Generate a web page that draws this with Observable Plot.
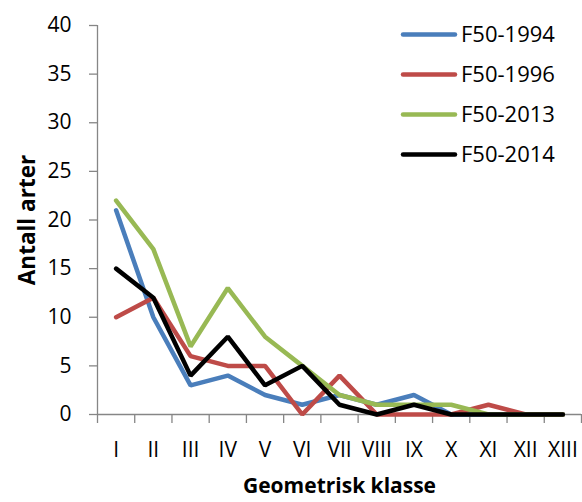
<!DOCTYPE html>
<html>
<head>
<meta charset="utf-8">
<script src="https://cdn.jsdelivr.net/npm/d3@7"></script>
<script src="https://cdn.jsdelivr.net/npm/@observablehq/plot@0.6"></script>
<style>
  html, body { margin: 0; padding: 0; background: #fff; }
  #wrap { position: relative; width: 582px; height: 502px; }
  #legend { position: absolute; left: 0; top: 0; pointer-events: none; }
</style>
</head>
<body>
<div id="wrap"></div>
<script>
const categories = ["I","II","III","IV","V","VI","VII","VIII","IX","X","XI","XII","XIII"];
const seriesNames = ["F50-1994","F50-1996","F50-2013","F50-2014"];
const seriesColors = ["#4a7ebb","#be4b48","#98b954","#000000"];
const s1994 = [21,10,3,4,2,1,2,1,2,0,0,0,0];
const s1996 = [10,12,6,5,5,0,4,0,0,0,1,0,0];
const s2013 = [22,17,7,13,8,5,2,1,1,1,0,0,0];
const s2014 = [15,12,4,8,3,5,1,0,1,0,0,0,0];
const yTicks = [0,5,10,15,20,25,30,35,40];
const xTitle = "Geometrisk klasse";
const yTitle = "Antall arter";

const allSeries = [s1994, s1996, s2013, s2014];
const data = [];
allSeries.forEach((vals, si) => vals.forEach((v, i) => data.push({series: seriesNames[si], idx: i, value: v})));
const idxs = categories.map((c, i) => i);
const bounds = categories.map((c, i) => i - 0.5).concat([categories.length - 0.5]);

const axisGray = "#868686";
const font = "'Open Sans', sans-serif";

const chart = Plot.plot({
  width: 582,
  height: 502,
  marginLeft: 97,
  marginRight: 1,
  marginTop: 25,
  marginBottom: 88,
  style: {fontFamily: font, fontSize: "21px", color: "#000", background: "#fff"},
  x: {type: "linear", domain: [-0.5, categories.length - 0.5], axis: null},
  y: {domain: [0, 40], axis: null},
  color: {domain: seriesNames, range: seriesColors},
  marks: [
    Plot.ruleX([-0.5], {stroke: axisGray, strokeWidth: 1.3}),
    Plot.ruleY([0], {stroke: axisGray, strokeWidth: 1.3}),
    Plot.axisY(yTicks, {tickSize: 8, tickPadding: 18, stroke: axisGray, strokeWidth: 1.3, fill: "#000", label: null}),
    Plot.axisX(bounds, {tickSize: 9, stroke: axisGray, strokeWidth: 1.3, tickFormat: () => "", label: null}),
    Plot.axisX(idxs, {tickSize: 0, tickPadding: 28, tickFormat: i => categories[i], fill: "#000", label: null}),
    Plot.line(data, {x: "idx", y: "value", z: "series", stroke: d => d.series, strokeWidth: 4.5, strokeLinejoin: "miter", strokeLinecap: "round"}),
    Plot.text([xTitle], {frameAnchor: "bottom", dy: 78, textAnchor: "middle", fontWeight: "bold", fontSize: 21, fill: "#000"}),
    Plot.text([yTitle], {frameAnchor: "left", dx: -70, textAnchor: "middle", rotate: -90, fontWeight: "bold", fontSize: 22.5, fill: "#000"})
  ]
});

const wrap = document.getElementById("wrap");
wrap.appendChild(chart);

// Legend overlay
const ns = "http://www.w3.org/2000/svg";
const leg = document.createElementNS(ns, "svg");
leg.setAttribute("id", "legend");
leg.setAttribute("width", 582);
leg.setAttribute("height", 502);
seriesNames.forEach((name, i) => {
  const y = 34.5 + i * 40;
  const ln = document.createElementNS(ns, "line");
  ln.setAttribute("x1", 403); ln.setAttribute("x2", 455);
  ln.setAttribute("y1", y); ln.setAttribute("y2", y);
  ln.setAttribute("stroke", seriesColors[i]);
  ln.setAttribute("stroke-width", 4.5);
  ln.setAttribute("stroke-linecap", "round");
  leg.appendChild(ln);
  const t = document.createElementNS(ns, "text");
  t.setAttribute("x", 461);
  t.setAttribute("y", y);
  t.setAttribute("dy", "0.35em");
  t.setAttribute("font-family", "Open Sans, sans-serif");
  t.setAttribute("font-size", "22px");
  t.setAttribute("fill", "#000");
  t.textContent = name;
  leg.appendChild(t);
});
wrap.appendChild(leg);
</script>
</body>
</html>
